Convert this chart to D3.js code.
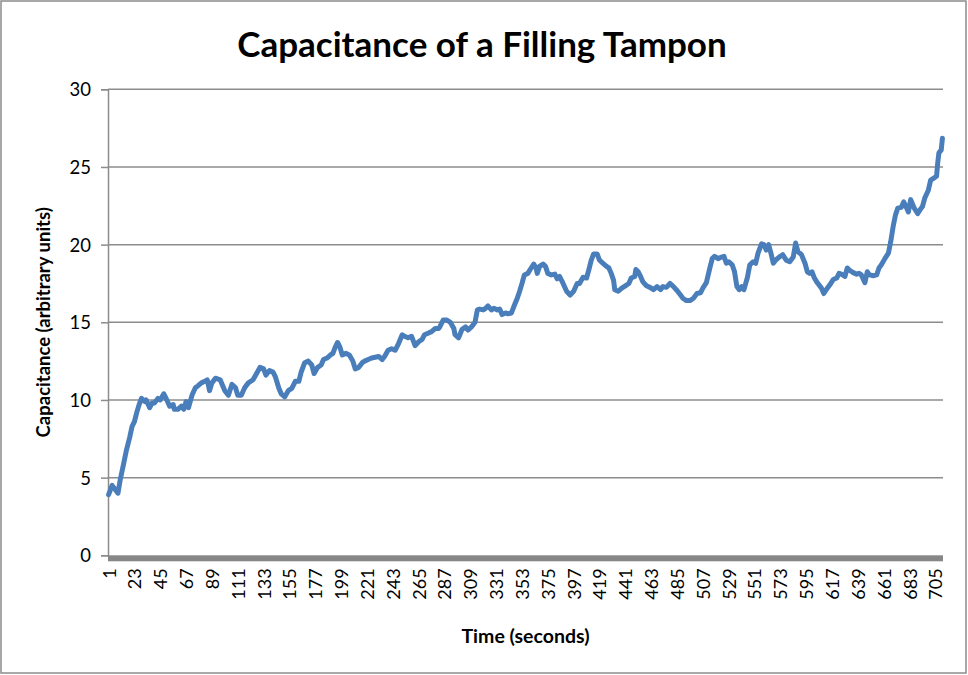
<!DOCTYPE html>
<html>
<head>
<meta charset="utf-8">
<script src="https://cdn.jsdelivr.net/npm/d3@7"></script>
<style>
  body { margin: 0; background: #fff; }
  text { font-family: Lato, "Open Sans", sans-serif; fill: #000; }
</style>
</head>
<body>
<script>
// time in seconds (category number) and capacitance
var times = [1,4,6,9,11,13,16,19,21,23,25,27,29,32,33,36,38,40,43,45,48,50,53,56,57,60,63,65,67,69,72,75,77,80,83,85,87,89,92,96,100,103,106,109,111,114,117,120,124,127,
  130,133,135,138,141,143,146,148,151,154,157,160,163,165,168,171,174,176,179,182,184,187,190,192,194,196,198,200,203,206,209,211,214,217,219,222,225,228,231,234,236,239,242,245,248,251,253,256,259,262,265,268,270,273,276,279,282,
  283,286,289,292,295,296,299,302,305,307,310,313,315,317,320,322,324,327,329,332,334,336,339,341,344,346,349,351,353,355,358,360,363,365,366,368,371,373,375,378,381,383,385,388,391,394,397,400,402,
  405,408,410,412,414,417,419,422,425,427,429,431,432,435,438,441,444,446,449,450,452,454,456,459,462,465,468,471,473,476,479,482,485,488,490,493,496,499,502,505,507,510,513,515,517,520,523,525,527,529,532,534,536,538,540,542,
  545,547,550,552,554,557,559,561,563,565,567,569,572,575,578,581,584,586,588,591,594,596,598,600,602,604,606,608,610,612,615,618,621,623,625,628,630,632,635,638,640,642,645,647,649,652,655,657,659,662,665,667,669,671,673,676,678,680,682,684,687,690,692,694,696,699,701,704,706,707,708,710,711];

var capacitance = [3.9,4.5,4.3,4.0,4.9,5.6,6.7,7.6,8.3,8.6,9.2,9.7,10.1,9.9,10.0,9.5,9.8,9.8,10.1,10.0,10.4,10.1,9.6,9.7,9.4,9.4,9.6,9.4,9.9,9.5,10.3,10.8,10.9,11.1,11.2,11.3,10.6,11.1,11.4,11.3,10.6,10.3,11.0,10.8,10.3,10.3,10.8,11.1,11.3,11.7,
  12.1,12.0,11.6,11.9,11.8,11.5,10.75,10.4,10.2,10.6,10.75,11.2,11.2,11.8,12.4,12.5,12.25,11.7,12.1,12.25,12.6,12.7,12.9,13.0,13.4,13.7,13.4,12.9,13.0,12.9,12.5,12.0,12.1,12.4,12.5,12.6,12.7,12.75,12.8,12.6,12.8,13.2,13.3,13.2,13.65,14.2,14.1,14.0,14.1,13.5,13.75,13.9,14.2,14.3,14.4,14.6,14.6,
  14.7,15.15,15.15,15.0,14.6,14.2,14.0,14.55,14.7,14.5,14.7,15.0,15.8,15.85,15.8,15.9,16.05,15.8,15.9,15.8,15.85,15.5,15.6,15.55,15.6,16.0,16.55,17.0,17.5,18.05,18.15,18.4,18.75,18.5,18.15,18.6,18.75,18.6,18.15,18.05,18.1,17.8,17.95,17.5,17.0,16.75,17.0,17.5,17.5,
  17.9,17.85,18.4,19.0,19.4,19.4,19.0,18.8,18.6,18.5,18.15,17.7,17.1,17.0,17.2,17.35,17.5,17.85,17.95,18.4,18.25,17.95,17.6,17.35,17.25,17.1,17.3,17.1,17.3,17.25,17.5,17.3,17.05,16.75,16.55,16.4,16.4,16.55,16.85,16.9,17.2,17.55,18.5,19.1,19.25,19.1,19.2,19.25,18.8,18.9,18.7,18.25,17.3,17.1,17.3,17.1,
  17.9,18.7,18.9,18.8,19.45,20.05,20.0,19.65,20.0,19.45,18.8,19.0,19.2,19.35,19.0,18.9,19.2,20.1,19.55,19.35,18.8,18.25,18.15,18.25,17.85,17.6,17.4,17.2,16.85,17.1,17.4,17.75,17.85,18.15,18.1,17.95,18.5,18.35,18.2,18.1,18.15,18.05,17.55,18.25,18.05,18.0,18.05,18.5,18.7,19.1,19.45,20.2,21.15,21.9,22.35,22.4,22.75,22.45,22.1,22.9,22.35,22.0,22.25,22.45,23.0,23.5,24.15,24.3,24.4,25.25,25.9,26.1,26.85];

var categoryCount = 711;
var xTicks = [1,23,45,67,89,111,133,155,177,199,221,243,265,287,309,331,353,375,397,419,441,463,485,507,529,551,573,595,617,639,661,683,705];
var yTicks = [0,5,10,15,20,25,30];

var width = 968, height = 675;
var margin = {left:108, right:25, top:89.3, bottom:119.7};

var svg = d3.select("body").append("svg").attr("width",width).attr("height",height);

// outer frame
svg.append("rect")
  .attr("x",1).attr("y",1).attr("width",width-3).attr("height",height-3)
  .attr("fill","#fff").attr("stroke","#8c8c8c").attr("stroke-width",1.5);

var x = d3.scaleLinear().domain([0.5, categoryCount+0.5]).range([margin.left, width-margin.right]);
var y = d3.scaleLinear().domain([0,30]).range([height-margin.bottom, margin.top]);

// gridlines
svg.append("g").selectAll("line")
  .data(yTicks.filter(function(d){ return d>0; }))
  .enter().append("line")
    .attr("x1",x.range()[0]).attr("x2",x.range()[1])
    .attr("y1",function(d){ return y(d); }).attr("y2",function(d){ return y(d); })
    .attr("stroke","#8c8c8c").attr("stroke-width",1.5);

// y axis
var yAxis = svg.append("g")
  .attr("transform","translate("+margin.left+",0)")
  .call(d3.axisLeft(y).tickValues(yTicks).tickSize(7).tickPadding(10));
yAxis.select(".domain").attr("stroke","#8c8c8c").attr("stroke-width",1.5);
yAxis.selectAll(".tick line").attr("stroke","#8c8c8c").attr("stroke-width",1.5);
yAxis.selectAll("text").style("font-size","18.5px").attr("dy","0.36em");

// x axis (thick band)
svg.append("rect")
  .attr("x",x.range()[0]).attr("y",y(0))
  .attr("width",x.range()[1]-x.range()[0]).attr("height",6)
  .attr("fill","#878787");

var xAxis = svg.append("g")
  .attr("transform","translate(0,"+(y(0)+13)+")")
  .call(d3.axisBottom(x).tickValues(xTicks).tickSize(0).tickFormat(d3.format("d")));
xAxis.select(".domain").remove();
xAxis.selectAll("text")
  .style("font-size","18px")
  .attr("text-anchor","end")
  .attr("transform","rotate(-90)")
  .attr("x",0).attr("y",0).attr("dx",0).attr("dy","0.36em");

// series
var line = d3.line()
  .x(function(d,i){ return x(times[i]); })
  .y(function(d){ return y(d); });

svg.append("path")
  .datum(capacitance)
  .attr("d",line)
  .attr("fill","none")
  .attr("stroke","#4a7ebb")
  .attr("stroke-width",5)
  .attr("stroke-linejoin","round")
  .attr("stroke-linecap","round");

// titles
svg.append("text")
  .attr("x",482).attr("y",57)
  .attr("text-anchor","middle")
  .style("font-size","35px").style("font-weight","bold")
  .text("Capacitance of a Filling Tampon");

svg.append("text")
  .attr("x",(x.range()[0]+x.range()[1])/2).attr("y",643)
  .attr("text-anchor","middle")
  .style("font-size","19.5px").style("font-weight","bold")
  .text("Time (seconds)");

svg.append("text")
  .attr("transform","translate(50,"+((y(0)+y(30))/2)+") rotate(-90)")
  .attr("text-anchor","middle")
  .style("font-size","18.5px").style("font-weight","bold")
  .text("Capacitance (arbitrary units)");
</script>
</body>
</html>
